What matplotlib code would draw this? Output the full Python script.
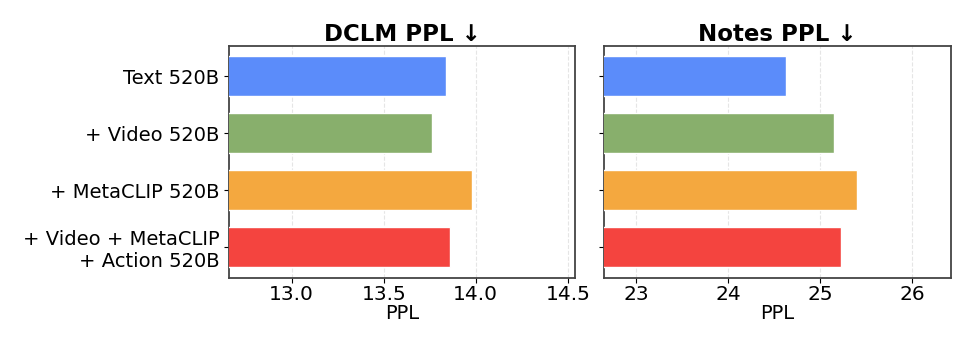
import matplotlib
matplotlib.use("Agg")
import matplotlib.pyplot as plt
import numpy as np

categories = ["Text 520B", "+ Video 520B", "+ MetaCLIP 520B", "+ Video + MetaCLIP\n+ Action 520B"]
dclm_ppl = [13.84, 13.76, 13.98, 13.86]
notes_ppl = [24.63, 25.15, 25.40, 25.23]
colors = ["#5B8CFA", "#88AF6C", "#F4A83F", "#F4443F"]
titles = ["DCLM PPL ↓", "Notes PPL ↓"]
dclm_ticks = [13.0, 13.5, 14.0, 14.5]
notes_ticks = [23, 24, 25, 26]

fig, axes = plt.subplots(1, 2, figsize=(9.7, 3.4), dpi=100)
fig.subplots_adjust(left=0.236, right=0.980, top=0.866, bottom=0.183, wspace=0.085)

y = np.arange(len(categories))
for ax, vals, title, ticks in zip(axes, [dclm_ppl, notes_ppl], titles, [dclm_ticks, notes_ticks]):
    ax.barh(y, vals, height=0.7, color=colors, edgecolor="white", linewidth=1.0, zorder=3)
    ax.set_xlim(min(vals) * 0.92, max(vals) * 1.04)
    ax.set_xticks(ticks)
    ax.invert_yaxis()
    ax.set_title(title, fontsize=16.5, fontweight="bold", pad=3)
    ax.set_xlabel("PPL", fontsize=14, labelpad=0)
    ax.tick_params(axis="x", labelsize=14.5, pad=2)
    ax.grid(axis="x", linestyle="--", color="#d5d5d5", alpha=0.6, linewidth=0.8, zorder=0)
    for s in ax.spines.values():
        s.set_color("#444444")
        s.set_linewidth(1.3)
    ax.set_yticks(y)

axes[0].set_yticklabels(categories, fontsize=14)
axes[1].set_yticklabels([])

fig.savefig("out.png", dpi=100)
